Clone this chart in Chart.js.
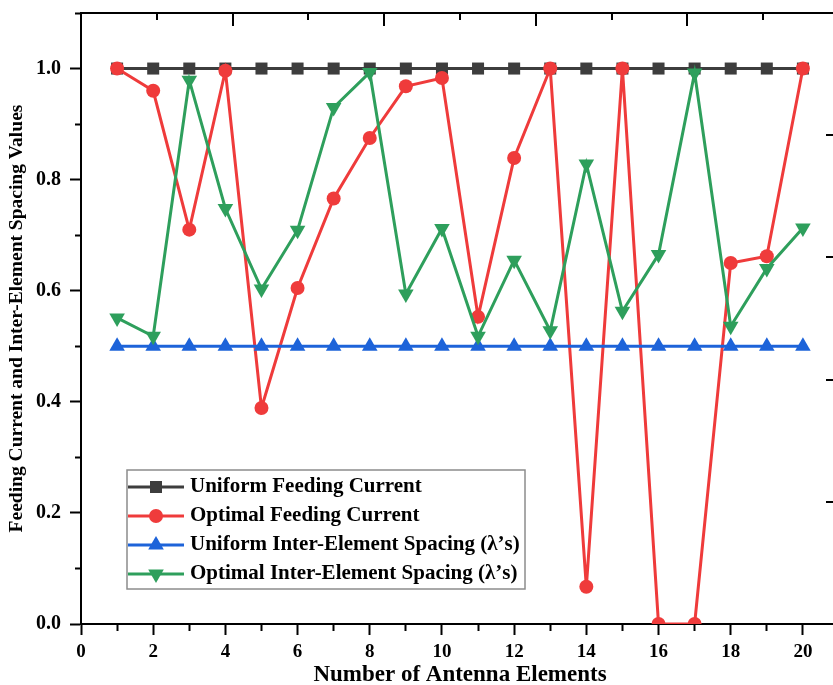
<!DOCTYPE html>
<html>
<head>
<meta charset="utf-8">
<script src="https://cdn.jsdelivr.net/npm/chart.js@4.4.0/dist/chart.umd.min.js"></script>
<style>
html, body { margin: 0; padding: 0; background: #ffffff; overflow: hidden; }
#wrap { width: 833px; height: 685px; overflow: hidden; position: relative; }
canvas { display: block; }
</style>
</head>
<body>
<div id="wrap"><canvas id="c" width="860" height="685"></canvas></div>
<script>
// ---------- data ----------
const elements = [1, 2, 3, 4, 5, 6, 7, 8, 9, 10, 11, 12, 13, 14, 15, 16, 17, 18, 19, 20];
const uniformFeedingCurrent = [1, 1, 1, 1, 1, 1, 1, 1, 1, 1, 1, 1, 1, 1, 1, 1, 1, 1, 1, 1];
const optimalFeedingCurrent = [1.0, 0.960, 0.710, 0.996, 0.389, 0.605, 0.766, 0.875, 0.968, 0.983,
                               0.553, 0.839, 1.0, 0.067, 1.0, 0.0, 0.0, 0.650, 0.662, 1.0];
const uniformSpacing = [0.5, 0.5, 0.5, 0.5, 0.5, 0.5, 0.5, 0.5, 0.5, 0.5,
                        0.5, 0.5, 0.5, 0.5, 0.5, 0.5, 0.5, 0.5, 0.5, 0.5];
const optimalSpacing = [0.551, 0.518, 0.979, 0.748, 0.603, 0.709, 0.930, 0.993, 0.594, 0.712,
                        0.518, 0.655, 0.528, 0.828, 0.563, 0.665, 0.992, 0.536, 0.640, 0.713];
const seriesNames = ['Uniform Feeding Current', 'Optimal Feeding Current',
                     'Uniform Inter-Element Spacing (\u03bb\u2019s)', 'Optimal Inter-Element Spacing (\u03bb\u2019s)'];
const xTickValues = [0, 2, 4, 6, 8, 10, 12, 14, 16, 18, 20];
const xTickLabels = ['0', '2', '4', '6', '8', '10', '12', '14', '16', '18', '20'];
const yTickLabels = ['0.0', '0.2', '0.4', '0.6', '0.8', '1.0'];
const xTitle = 'Number of Antenna Elements';
const yTitle = 'Feeding Current and Inter-Element Spacing Values';

// ---------- styles ----------
const FONT = "'Liberation Serif', 'Times New Roman', serif";
const colors = ['#3d3d3d', '#ef3b3b', '#1d63d9', '#2e9f5c'];
const styles = ['rect', 'circle', 'triangle', 'triangleDown'];

function pts(arr) { return elements.map((e, i) => ({ x: e, y: arr[i] })); }

function makeIcon(color, style) {
  const c = document.createElement('canvas');
  c.width = 56; c.height = 22;
  const g = c.getContext('2d');
  g.strokeStyle = color; g.lineWidth = 3;
  g.beginPath(); g.moveTo(0, 11); g.lineTo(56, 11); g.stroke();
  g.fillStyle = color;
  const cx = 28, cy = 11;
  g.beginPath();
  if (style === 'rect') {
    g.rect(cx - 6, cy - 6, 12, 12);
  } else if (style === 'circle') {
    g.arc(cx, cy, 7, 0, Math.PI * 2);
  } else if (style === 'triangle') {
    g.moveTo(cx, cy - 9); g.lineTo(cx + 7.8, cy + 4.5); g.lineTo(cx - 7.8, cy + 4.5); g.closePath();
  } else {
    g.moveTo(cx, cy + 9); g.lineTo(cx + 7.8, cy - 4.5); g.lineTo(cx - 7.8, cy - 4.5); g.closePath();
  }
  g.fill();
  return c;
}
const icons = colors.map((c, i) => makeIcon(c, styles[i]));

// ---------- plugin: legend placement + frame ----------
const legendPlace = {
  id: 'legendPlace',
  afterLayout(chart) {
    const lg = chart.legend, a = chart.chartArea;
    if (!lg) return;
    const w = lg.width, h = lg.height;
    lg.left = a.left + 43.5;
    lg.top = a.top + 455.5;
    lg.right = lg.left + w;
    lg.bottom = lg.top + h;
  },
  afterDraw(chart) {
    const a = chart.chartArea, g = chart.ctx;
    g.save();
    g.strokeStyle = '#8c8c8c';
    g.lineWidth = 1.5;
    g.strokeRect(a.left + 46, a.top + 457, 398, 119);
    g.restore();
  }
};

const baseDs = { borderWidth: 3, tension: 0, pointBorderWidth: 0, clip: 0, pointHoverRadius: 8 };

new Chart(document.getElementById('c'), {
  type: 'line',
  data: {
    datasets: [
      Object.assign({}, baseDs, { label: seriesNames[0], data: pts(uniformFeedingCurrent),
        borderColor: colors[0], backgroundColor: colors[0], pointStyle: 'rect', pointRadius: 8.5, order: 4 }),
      Object.assign({}, baseDs, { label: seriesNames[1], data: pts(optimalFeedingCurrent),
        borderColor: colors[1], backgroundColor: colors[1], pointStyle: 'circle', pointRadius: 7, order: 3 }),
      Object.assign({}, baseDs, { label: seriesNames[2], data: pts(uniformSpacing),
        borderColor: colors[2], backgroundColor: colors[2], pointStyle: 'triangle', pointRadius: 9, order: 2 }),
      Object.assign({}, baseDs, { label: seriesNames[3], data: pts(optimalSpacing),
        borderColor: colors[3], backgroundColor: colors[3], pointStyle: 'triangle', pointRotation: 180, pointRadius: 9, order: 1 })
    ]
  },
  options: {
    responsive: false,
    animation: false,
    devicePixelRatio: 1,
    layout: { padding: { left: 0, top: 13, right: 21, bottom: 0 } },
    plugins: {
      tooltip: { enabled: false },
      legend: {
        display: true,
        position: 'chartArea',
        align: 'start',
        labels: {
          usePointStyle: true,
          pointStyleWidth: 47,
          padding: 8,
          color: '#000000',
          font: { family: FONT, size: 21, weight: 'bold' },
          sort: (a, b) => a.datasetIndex - b.datasetIndex,
          generateLabels: (chart) => Chart.defaults.plugins.legend.labels.generateLabels(chart)
            .map(l => Object.assign(l, { pointStyle: icons[l.datasetIndex], rotation: 0 }))
        }
      }
    },
    scales: {
      x: {
        type: 'linear', position: 'bottom', min: 0, max: 21, z: 1,
        afterFit: (s) => { s.height = 61; s.paddingLeft = 0; s.paddingRight = 0; },
        ticks: {
          stepSize: 1, autoSkip: false, maxRotation: 0, padding: 8, color: '#000000',
          font: { family: FONT, size: 19, weight: 'bold', lineHeight: 1 },
          callback: (v) => { const i = xTickValues.indexOf(Math.round(v)); return (i >= 0 && Math.abs(v - Math.round(v)) < 1e-6) ? xTickLabels[i] : ''; }
        },
        grid: {
          drawOnChartArea: false, drawTicks: true, tickLength: 11, tickWidth: 2, tickColor: '#000000',
          tickBorderDash: (c) => (c.tick && Math.round(c.tick.value) % 2 !== 0) ? [6, 100] : []
        },
        border: { display: true, color: '#000000', width: 2 },
        title: { display: true, text: xTitle, color: '#000000',
          font: { family: FONT, size: 23, weight: 'bold', lineHeight: 1 }, padding: { top: 0, bottom: -1.5 } }
      },
      y: {
        type: 'linear', position: 'left', min: 0, max: 1.1, z: 1,
        afterFit: (s) => { s.width = 81; s.paddingTop = 0; s.paddingBottom = 0; },
        ticks: {
          stepSize: 0.1, autoSkip: false, padding: 9, color: '#000000',
          font: { family: FONT, size: 20, weight: 'bold', lineHeight: 1.2 },
          callback: (v) => { const k = Math.round(v * 10); return (k % 2 === 0 && k <= 10) ? yTickLabels[k / 2] : ''; }
        },
        grid: {
          drawOnChartArea: false, drawTicks: true, tickLength: 11, tickWidth: 2, tickColor: '#000000',
          tickBorderDash: (c) => (c.tick && Math.round(c.tick.value * 10) % 2 !== 0) ? [0, 5, 5, 100] : []
        },
        border: { display: true, color: '#000000', width: 2 },
        title: { display: true, text: yTitle, color: '#000000',
          font: { family: FONT, size: 19.5, weight: 'bold', lineHeight: 1.2 }, padding: { top: 5, bottom: 0 } }
      },
      x2: {
        type: 'linear', position: 'top', min: 0, max: 10,
        ticks: { display: false, stepSize: 1 },
        grid: { drawOnChartArea: true, drawTicks: false, color: '#000000', lineWidth: 2 },
        border: { display: true, color: '#000000', width: 2,
          dash: (c) => c.tick ? (Math.round(c.tick.value) % 2 === 0 ? [12, 3000] : [6, 3000]) : [] }
      },
      y2: {
        type: 'linear', position: 'right', min: 0, max: 5,
        ticks: { display: false, stepSize: 1 },
        grid: { drawOnChartArea: true, drawTicks: false, color: '#000000', lineWidth: 2 },
        border: { display: true, color: '#000000', width: 2,
          dash: (c) => {
            if (!c.tick || !c.chart.chartArea) return [];
            const a = c.chart.chartArea;
            const L = a.right - a.left - 1;
            return [0, L - 12, 12, 3000];
          } }
      }
    }
  },
  plugins: [legendPlace]
});
</script>
</body>
</html>
